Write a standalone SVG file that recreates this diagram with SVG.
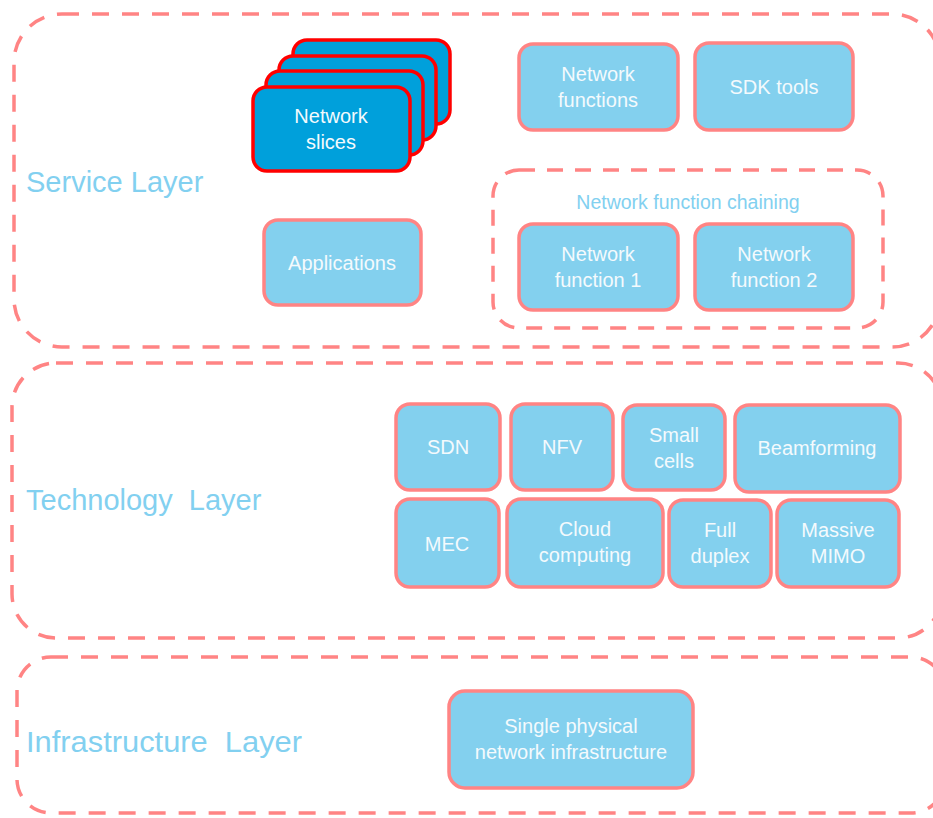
<svg xmlns="http://www.w3.org/2000/svg" width="933" height="818" viewBox="0 0 933 818">
<style>
.layer{fill:none;stroke:#FF8484;stroke-width:3.5;stroke-dasharray:17 13;}
.chain{fill:none;stroke:#FF8484;stroke-width:3.5;stroke-dasharray:16 12;}
.box{fill:#83D0EE;stroke:#FF8484;stroke-width:3.5;}
.slice{fill:#00A0DB;stroke:#FF0000;stroke-width:3.5;}
.t{font-family:"Liberation Sans",Arial,sans-serif;font-size:20px;fill:#F4FAFD;text-anchor:middle;}
.lbl{font-family:"Liberation Sans",Arial,sans-serif;font-size:29px;fill:#82D0F0;white-space:pre;}
.clbl{font-family:"Liberation Sans",Arial,sans-serif;font-size:19.5px;fill:#82D0F0;text-anchor:middle;}
</style>
<g id="service-layer">
<rect class="layer" x="14" y="14" width="926" height="333" rx="48"/>
<text class="lbl" x="26" y="192">Service Layer</text>
</g>
<g id="technology-layer">
<rect class="layer" x="12" y="363" width="930" height="275" rx="44"/>
<text class="lbl" x="26" y="510">Technology  Layer</text>
</g>
<g id="infrastructure-layer">
<rect class="layer" x="17" y="657" width="928" height="156" rx="34"/>
<text class="lbl" x="26" y="752" textLength="276" lengthAdjust="spacingAndGlyphs">Infrastructure  Layer</text>
</g>
<g id="network-slices">
<rect class="slice" x="293" y="40" width="157" height="84" rx="14"/>
<rect class="slice" x="279" y="56" width="157" height="84" rx="14"/>
<rect class="slice" x="266" y="71" width="157" height="84" rx="14"/>
<rect class="slice" x="253" y="87" width="157" height="84" rx="14"/>
<text class="t" x="331" y="123">Network</text>
<text class="t" x="331" y="149">slices</text>
</g>
<g id="network-functions">
<rect class="box" x="519" y="44" width="159" height="86" rx="14"/>
<text class="t" x="598" y="81">Network</text>
<text class="t" x="598" y="107">functions</text>
</g>
<g id="sdk-tools">
<rect class="box" x="695" y="43" width="158" height="87" rx="14"/>
<text class="t" x="774" y="94">SDK tools</text>
</g>
<g id="applications">
<rect class="box" x="264" y="220" width="157" height="85" rx="14"/>
<text class="t" x="342" y="270">Applications</text>
</g>
<g id="network-function-chaining">
<rect class="chain" x="493" y="170" width="390" height="158" rx="26"/>
<text class="clbl" x="688" y="209">Network function chaining</text>
</g>
<g id="network-function-1">
<rect class="box" x="519" y="224" width="159" height="86" rx="14"/>
<text class="t" x="598" y="261">Network</text>
<text class="t" x="598" y="287">function 1</text>
</g>
<g id="network-function-2">
<rect class="box" x="695" y="224" width="158" height="86" rx="14"/>
<text class="t" x="774" y="261">Network</text>
<text class="t" x="774" y="287">function 2</text>
</g>
<g id="sdn">
<rect class="box" x="396" y="404" width="104" height="86" rx="14"/>
<text class="t" x="448" y="454">SDN</text>
</g>
<g id="nfv">
<rect class="box" x="511" y="404" width="102" height="86" rx="14"/>
<text class="t" x="562" y="454">NFV</text>
</g>
<g id="small-cells">
<rect class="box" x="623" y="405" width="102" height="85" rx="14"/>
<text class="t" x="674" y="442">Small</text>
<text class="t" x="674" y="468">cells</text>
</g>
<g id="beamforming">
<rect class="box" x="735" y="405" width="165" height="87" rx="14"/>
<text class="t" x="817" y="455">Beamforming</text>
</g>
<g id="mec">
<rect class="box" x="396" y="499" width="103" height="88" rx="14"/>
<text class="t" x="447" y="551">MEC</text>
</g>
<g id="cloud-computing">
<rect class="box" x="507" y="499" width="156" height="88" rx="14"/>
<text class="t" x="585" y="536">Cloud</text>
<text class="t" x="585" y="562">computing</text>
</g>
<g id="full-duplex">
<rect class="box" x="669" y="500" width="102" height="87" rx="14"/>
<text class="t" x="720" y="537">Full</text>
<text class="t" x="720" y="563">duplex</text>
</g>
<g id="massive-mimo">
<rect class="box" x="777" y="500" width="122" height="87" rx="14"/>
<text class="t" x="838" y="537">Massive</text>
<text class="t" x="838" y="563">MIMO</text>
</g>
<g id="single-physical-network-infrastructure">
<rect class="box" x="449" y="691" width="244" height="97" rx="16"/>
<text class="t" x="571" y="733">Single physical</text>
<text class="t" x="571" y="759">network infrastructure</text>
</g>
<g id="connectors"></g>
</svg>
